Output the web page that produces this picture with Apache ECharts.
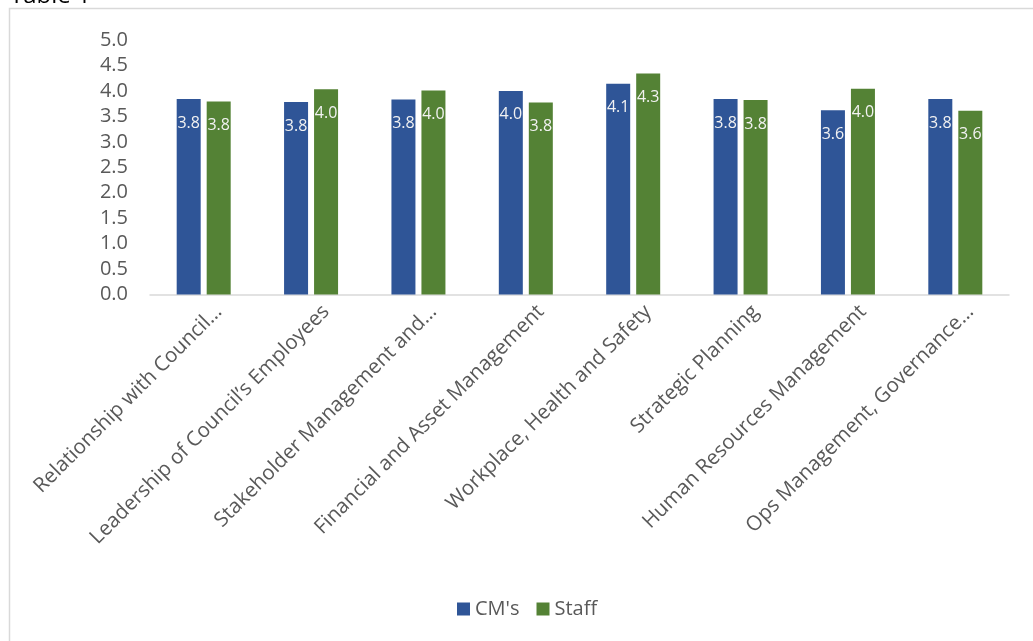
<!DOCTYPE html>
<html>
<head>
<meta charset="utf-8">
<script src="https://cdn.jsdelivr.net/npm/echarts@6/dist/echarts.min.js"></script>
<style>
html,body{margin:0;padding:0;background:#fff;}
#c{width:1033px;height:641px;}
</style>
</head>
<body>
<div id="c"></div>
<script>
const categories = [
  "Relationship with Council…",
  "Leadership of Council’s Employees",
  "Stakeholder Management and…",
  "Financial and Asset Management",
  "Workplace, Health and Safety",
  "Strategic Planning",
  "Human Resources Management",
  "Ops Management, Governance…"
];
const cmValues = [3.84, 3.78, 3.83, 4.00, 4.14, 3.84, 3.62, 3.84];
const staffValues = [3.79, 4.03, 4.01, 3.77, 4.34, 3.82, 4.04, 3.61];
const seriesNames = ["CM's", "Staff"];
const yTicks = { min: 0, max: 5, interval: 0.5 };

const FONT = '"Open Sans", sans-serif';
const chart = echarts.init(document.getElementById('c'), null, {renderer: 'canvas'});
const labelCfg = {
  show: true,
  position: 'insideTop',
  distance: 16,
  color: '#f2f2f2',
  fontSize: 16,
  fontFamily: FONT,
  formatter: p => p.value.toFixed(1)
};
chart.setOption({
  animation: false,
  backgroundColor: '#ffffff',
  textStyle: { fontFamily: FONT },
  graphic: [
    { type: 'rect', shape: { x: 9.5, y: 8.5, width: 1200, height: 1000 },
      style: { fill: 'none', stroke: '#d9d9d9', lineWidth: 1.5 }, silent: true },
    { type: 'text', x: 10, y: 8.5, z: 10,
      style: { text: 'Table 1', fontSize: 24, fontFamily: FONT, fill: '#000000', verticalAlign: 'bottom' } }
  ],
  grid: [
    { left: 150, right: 24, top: 40, bottom: 346.5, containLabel: false },
    { left: 165, right: 9, top: 40, bottom: 346.5, containLabel: false }
  ],
  legend: {
    data: seriesNames,
    left: 452, top: 594,
    itemWidth: 13, itemHeight: 13, itemGap: 17,
    icon: 'rect',
    textStyle: { fontSize: 20, color: '#595959', fontFamily: FONT }
  },
  xAxis: [
    {
      type: 'category',
      gridIndex: 0,
      data: categories,
      axisLine: { lineStyle: { color: '#d9d9d9', width: 1.5 } },
      axisTick: { show: false },
      axisLabel: { show: false }
    },
    {
      type: 'category',
      gridIndex: 1,
      data: categories,
      axisLine: { show: false },
      axisTick: { show: false },
      splitLine: { show: false },
      axisLabel: { rotate: 45, interval: 0, fontSize: 20.5, color: '#595959', fontFamily: FONT, margin: 14 }
    }
  ],
  yAxis: [
    {
      type: 'value',
      gridIndex: 0,
      min: yTicks.min, max: yTicks.max, interval: yTicks.interval,
      axisLine: { show: false },
      axisTick: { show: false },
      splitLine: { show: false },
      axisLabel: { fontSize: 20, color: '#595959', fontFamily: FONT, margin: 22, formatter: v => v.toFixed(1) }
    },
    {
      type: 'value',
      gridIndex: 1,
      min: yTicks.min, max: yTicks.max, interval: yTicks.interval,
      show: false
    }
  ],
  series: [
    { name: seriesNames[0], type: 'bar', data: cmValues, barWidth: 24, barGap: '25%',
      xAxisIndex: 0, yAxisIndex: 0,
      itemStyle: { color: '#2F5597' }, label: labelCfg },
    { name: seriesNames[1], type: 'bar', data: staffValues, barWidth: 24,
      xAxisIndex: 0, yAxisIndex: 0,
      itemStyle: { color: '#548235' }, label: labelCfg }
  ]
});
</script>
</body>
</html>
